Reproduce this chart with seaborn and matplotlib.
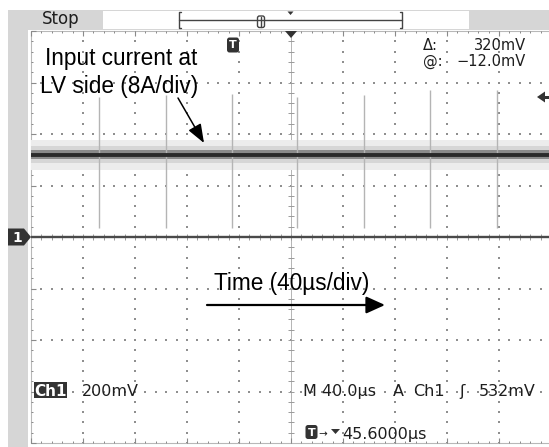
import numpy as np
import pandas as pd
import matplotlib
matplotlib.use("Agg")
import matplotlib.pyplot as plt
import seaborn as sns
from matplotlib.patches import Rectangle, Polygon, FancyBboxPatch

time_window_us = [-200.0, 198.5]          # visible part of the time axis
volt_window_mv = [-800.0, 800.0]          # 8 div x 200 mV/div
trace_time_us = [-200.0, 198.5]
trace_level_mv = [320.0, 320.0]           # Δ: 320 mV
noise_outer_mv = [58.0, 58.0]
noise_mid_mv = [34.0, 34.0]
noise_inner_mv = [16.0, 16.0]
spike_time_us = [-147.7, -96.2, -45.4, 4.6, 56.2, 106.9, 158.5]
spike_top_mv = [545.0, 550.0, 555.0, 545.0, 550.0, 570.0, 570.0]
spike_bottom_mv = [35.0, 35.0, 35.0, 35.0, 35.0, 35.0, 35.0]

label_signal = ["Input current at", "LV side (8A/div)"]
label_time = "Time (40\u00b5s/div)"
readout_top = [("\u0394:", "320mV"), ("@:", "\u221212.0mV")]
readout_bottom = ["Ch1", "200mV", "M 40.0\u00b5s", "A", "Ch1", "\u0283", "532mV"]
readout_trig = "45.6000\u00b5s"

# ---------------- figure ----------------
sns.set_theme(style="white")
plt.rcParams['font.family'] = ['DejaVu Sans']
W, H = 549, 447
fig = plt.figure(figsize=(W / 100, H / 100), dpi=100)
fig.patch.set_facecolor('white')

gray = '#d6d6d6'
bg = fig.add_axes([0, 0, 1, 1], zorder=0)
bg.set_xlim(0, W); bg.set_ylim(H, 0); bg.axis('off')
bg.add_patch(Rectangle((8, 10), W - 8, 19.5, color=gray, lw=0))
bg.add_patch(Rectangle((8, 10), 20, H - 10, color=gray, lw=0))
bg.add_patch(Rectangle((103, 11), 366, 17.5, color='white', lw=0))

# screen axes (pixel 31..549 horizontally, 31..443 vertically)
ax = fig.add_axes([31 / W, 1 - 443 / H, (549 - 31) / W, (443 - 31) / H], zorder=1)
ax.set_facecolor('white')
for s in ax.spines.values():
    s.set_visible(False)

minor_t = np.arange(-200, 200.1, 8)
minor_v = np.arange(-800, 800.1, 40)
major_t = np.arange(-200, 200.1, 40)
major_v = np.arange(-800, 800.1, 200)
tx, ty = 2.3, 11.7   # 3 px in data units

gx, gy = [], []
for t in major_t:
    if t in (0, -200, 200):
        continue
    gx += [t] * len(minor_v); gy += list(minor_v)
for v in major_v:
    if v in (0, -800, 800):
        continue
    gx += list(minor_t); gy += [v] * len(minor_t)
ax.scatter(gx, gy, s=1.1, marker='s', color='#8f8f8f', linewidths=0, zorder=1)

# center cross with ticks
ax.axvline(0, color='#b4b4b4', lw=0.7, zorder=1)
ax.hlines(minor_v, -tx, tx, color='#9a9a9a', lw=0.7, zorder=1)
ax.vlines(minor_t, -ty, ty, color='#9a9a9a', lw=0.7, zorder=1)
# border rulers
ax.hlines([800, -800], -200, 200, color='#b8b8b8', lw=0.8, clip_on=False)
ax.vlines([-200], -800, 800, color='#b8b8b8', lw=0.8, clip_on=False)
ax.vlines(minor_t, 800 - ty * 0.8, 800, color='#8a8a8a', lw=0.7, clip_on=False)
ax.vlines(major_t, 800 - ty * 1.6, 800, color='#8a8a8a', lw=0.8, clip_on=False)
ax.vlines(minor_t, -800, -800 + ty * 0.8, color='#8a8a8a', lw=0.7, clip_on=False)
ax.vlines(major_t, -800, -800 + ty * 1.6, color='#8a8a8a', lw=0.8, clip_on=False)
ax.hlines(minor_v, -200, -200 + tx * 0.8, color='#8a8a8a', lw=0.7, clip_on=False)
ax.hlines(major_v, -200, -200 + tx * 1.6, color='#8a8a8a', lw=0.8, clip_on=False)

# ground reference line
ax.axhline(0, color='#4a4a4a', lw=1.7, zorder=2)

# signal trace
lvl = np.array(trace_level_mv)
ax.fill_between(trace_time_us, lvl - np.array(noise_outer_mv), lvl + np.array(noise_outer_mv),
                color='#ececec', lw=0, zorder=2)
ax.fill_between(trace_time_us, lvl - np.array(noise_mid_mv), lvl + np.array(noise_mid_mv),
                color='#d6d6d6', lw=0, zorder=2)
ax.fill_between(trace_time_us, lvl - np.array(noise_inner_mv), lvl + np.array(noise_inner_mv),
                color='#8a8a8a', lw=0, zorder=2)
ax.vlines(spike_time_us, spike_bottom_mv, spike_top_mv, color='#b4b4b4', lw=1.0, zorder=3)
df = pd.DataFrame({'t': trace_time_us, 'v': trace_level_mv})
sns.lineplot(data=df, x='t', y='v', color='#2a2a2a', lw=2.8, ax=ax, zorder=4)

ax.set_xlim(time_window_us)
ax.set_ylim(volt_window_mv)
ax.set_xticks([]); ax.set_yticks([])
ax.set_xlabel(''); ax.set_ylabel('')

# ---------------- overlay in pixel coordinates ----------------
ov = fig.add_axes([0, 0, 1, 1], zorder=5)
ov.set_xlim(0, W); ov.set_ylim(H, 0); ov.axis('off')
ov.patch.set_alpha(0)
dark = '#333333'
txt = '#1e1e1e'
scope_font = ['DejaVu Sans']
ann_font = ['Liberation Sans', 'DejaVu Sans']

# top status bar
ov.text(42, 24.5, "Stop", fontsize=12, family=scope_font, color=txt, va='baseline')
ov.plot([179, 402], [20, 20], color='#444444', lw=1.0)
ov.plot([181, 179, 179, 181], [12, 12, 28, 28], color='#444444', lw=1.0)
ov.plot([400, 402, 402, 400], [12, 12, 28, 28], color='#444444', lw=1.0)
ov.add_patch(FancyBboxPatch((257.5, 16), 7, 11.5, boxstyle='round,pad=0,rounding_size=2',
                            fc='white', ec='#444444', lw=1.0))
ov.plot([261, 261], [17, 27], color='#444444', lw=1.0)
ov.add_patch(Polygon([(287.5, 11.5), (293.5, 11.5), (290.5, 15)], color=dark, lw=0))

# trigger position marker at top of screen
ov.add_patch(Polygon([(285, 31), (297, 31), (291, 38)], color=dark, lw=0))

# trigger T icons
def t_icon(cx, cy, w=12, h=15):
    ov.add_patch(FancyBboxPatch((cx - w / 2, cy - h / 2), w, h,
                                boxstyle='round,pad=0,rounding_size=2.5', fc=dark, ec='none'))
    ov.text(cx, cy + 0.5, "T", color='white', fontsize=8, fontweight='bold',
            family=scope_font, ha='center', va='center')

t_icon(233, 45)
t_icon(311.5, 432, w=12, h=14)

# channel 1 ground marker
ov.add_patch(Polygon([(8, 228.5), (24, 228.5), (31, 237), (24, 245.5), (8, 245.5)], color=dark, lw=0))
ov.text(17, 237.5, "1", color='white', fontsize=10, fontweight='bold',
        family=scope_font, ha='center', va='center')

# trigger level arrow on the right edge
ov.add_patch(Polygon([(537, 97), (545, 91.5), (545, 102.5)], color=dark, lw=0))
ov.add_patch(Rectangle((544, 95.5), 6, 3, color=dark, lw=0))

# annotation texts
ov.text(45, 65, label_signal[0], fontsize=16.3, family=ann_font, color='black', va='baseline')
ov.text(40, 93, label_signal[1], fontsize=16.3, family=ann_font, color='black', va='baseline')
ov.annotate('', xy=(204, 143), xytext=(178, 98),
            arrowprops=dict(arrowstyle='-|>,head_length=0.95,head_width=0.36',
                            color='black', lw=1.1, shrinkA=0, shrinkB=0))
ov.text(214, 290, label_time, fontsize=16.3, family=ann_font, color='black', va='baseline')
ov.annotate('', xy=(385, 305), xytext=(207, 305),
            arrowprops=dict(arrowstyle='-|>,head_length=0.95,head_width=0.43',
                            color='black', lw=1.6, shrinkA=0, shrinkB=0))

# cursor readouts
for (k, v), yb in zip(readout_top, [49.5, 65.5]):
    ov.text(423, yb, k, fontsize=10.5, family=scope_font, color=txt, va='baseline')
    ov.text(526, yb, v, fontsize=10.5, family=scope_font, color=txt, va='baseline', ha='right')

# bottom readouts
ov.add_patch(Rectangle((34, 382), 32.5, 16, color=dark, lw=0))
ov.text(50.2, 396, readout_bottom[0], fontsize=11, family=scope_font, color='white',
        fontweight='bold', va='baseline', ha='center')
xs_bottom = [None, 82, 303, 393, 413, 459, 479]
for s, xb in zip(readout_bottom[1:], xs_bottom[1:]):
    ov.text(xb, 396, s, fontsize=11.5, family=scope_font, color=txt, va='baseline')
ov.text(318.5, 437, "\u2192", fontsize=7.5, family=scope_font, color=txt, va='baseline')
ov.add_patch(Polygon([(331, 429), (340, 429), (335.5, 434)], color=dark, lw=0))
ov.text(342, 439, readout_trig, fontsize=11.5, family=scope_font, color=txt, va='baseline')

fig.savefig("out.png", dpi=100, facecolor='white')
